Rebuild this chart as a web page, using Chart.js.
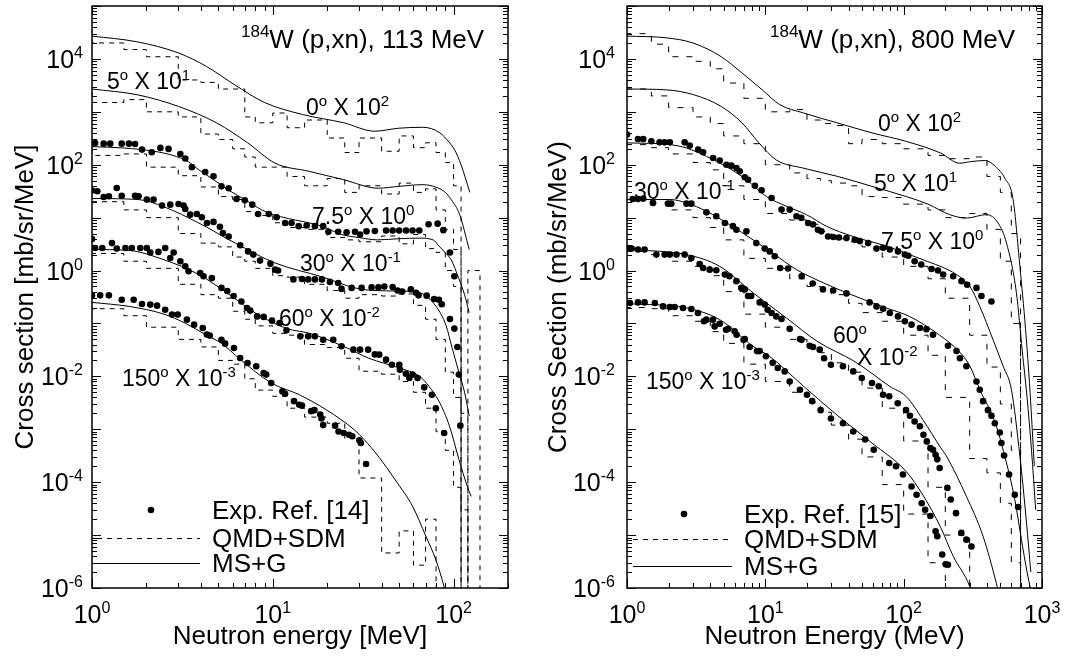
<!DOCTYPE html>
<html><head><meta charset="utf-8">
<script src="https://cdn.jsdelivr.net/npm/chart.js@4.4.1/dist/chart.umd.min.js"></script>
<style>
html,body{margin:0;padding:0;background:#fff;}
#wrap{position:relative;width:1068px;height:657px;overflow:hidden;}
canvas{position:absolute;top:0;}
#cL{left:0;} #cR{left:534px;}
</style></head><body>
<div id="wrap"><canvas id="cL" width="534" height="657"></canvas><canvas id="cR" width="534" height="657"></canvas></div>
<script>
// ---------------- tick labels ----------------
const X_TICKS_L = [1, 10, 100];
const X_TICKS_R = [1, 10, 100, 1000];
const Y_TICKS = [1e4, 1e2, 1, 1e-2, 1e-4, 1e-6];

// ---------------- LEFT PANEL: 184W(p,xn) 113 MeV ----------------
// MS+G (solid) curves  [E (MeV), d2sigma]
const L_MSG_0 = [[1,2.7e4],[1.78,2.1e4],[3,1.3e4],[4.3,7.2e3],[6.1,3.3e3],[9,1.5e3],[14.6,890],[24.7,620],[36.6,430],[49.8,490],[67.6,510],[84,400],[95,260],[101,195],[110,100],[123,30]];
const L_MSG_5 = [[1,2.7e3],[1.78,2.1e3],[3,1.27e3],[4.9,615],[7.25,260],[10.3,107],[15.9,75],[24.7,52],[38.3,36],[49.8,39],[67.6,42],[81,37],[90,30],[97,22],[108,11.5],[122,2.5]];
const L_MSG_75 = [[1,220],[1.5,207],[2.2,180],[2.8,150],[3.4,115],[3.9,80],[4.6,55],[5.7,33],[7,22],[8.7,14],[10,11.5],[12.2,9.6],[14.5,8.5],[18.7,6.9],[24,4.8],[30,4.2],[38,3.8],[50,4.0],[65,4.1],[77,3.8],[83,2.9],[92,2.0],[97,1.6],[107,0.7],[115,0.35],[122,0.16]];
const L_MSG_30 = [[1,23],[1.8,22],[2.5,16],[3.9,7.9],[6.2,3.3],[10.3,1.39],[18.7,0.76],[28.5,0.47],[36,0.42],[50,0.41],[65,0.38],[80,0.21],[91,0.09],[98,0.035],[107,0.012],[115,0.005],[122,0.0018]];
const L_MSG_60 = [[1,2.5],[1.6,2.4],[2.5,1.6],[3.9,0.84],[5.9,0.33],[8,0.158],[12,0.08],[16,0.065],[25,0.036],[34,0.022],[50,0.0144],[65,0.010],[73,0.0065],[83,0.0034],[95,0.00114],[107,2.7e-4],[119,8.4e-5],[125,5.4e-5]];
const L_MSG_150 = [[1,0.25],[1.6,0.21],[2.5,0.15],[3.3,0.1],[4.3,0.06],[5.2,0.042],[6.6,0.021],[9.8,0.0075],[14,0.0045],[19.9,0.0023],[28.2,9.8e-4],[32,6.4e-4],[38.3,3.1e-4],[47.6,1.1e-4],[59.3,3.5e-5],[70.3,9.5e-6],[79.8,3.4e-6],[89,1e-6],[95,4e-7]];

// QMD+SDM (dashed histograms): bin edges + bin values
const L_BINS = [1,1.5,2,3,4,5,6,7,8,10,12,15,20,25,30,40,50,60,70,80,90,100,110,120,140,160];
const L_QMD_0 = [3.5e4,2.0e4,1.5e4,1.1e4,4.0e3,3.6e3,2.7e3,2.7e3,800,620,950,500,700,320,170,320,180,350,210,260,170,110,40];
const L_QMD_5 = [2.3e3,1.5e3,1.7e3,1.0e3,800,380,300,200,140,90,90,60,40,55,30,40,28,45,30,35,14,6,2.5];
const L_QMD_75 = [200,150,160,90,62,38,25,22,13,11,8,6.5,6,4.2,3.8,3.5,4.5,3.2,4.8,2.6,2.2,1.0,0.5,1e-9,1.0];
const L_QMD_30 = [20,20,14,10,5,3.3,2.8,1.8,1.5,1.1,0.8,0.75,0.55,0.42,0.3,0.35,0.33,0.36,0.22,0.12,0.05,0.012,0.004,0.002];
const L_QMD_60 = [2.2,2.1,1.5,1.1,0.55,0.35,0.3,0.17,0.12,0.09,0.065,0.06,0.04,0.035,0.022,0.0125,0.011,0.008,0.005,0.0025,0.0009,4e-4,8e-5,3e-5];
const L_QMD_150 = [0.21,0.19,0.14,0.085,0.05,0.036,0.02,0.017,0.009,0.0055,0.0042,0.0025,0.0017,0.0013,6.8e-4,1.2e-4,4.6e-6,1.2e-5,2.7e-6,2e-5];

// Experimental data, Ref. [14]
const L_EXP_75 = [[1.04,258],[1.16,250],[1.26,250],[1.46,250],[1.6,250],[1.73,247],[1.89,193],[2.14,172],[2.39,208],[2.65,199],[3.08,160],[3.28,131],[3.57,90],[4.23,73],[4.7,60.5],[5.2,39],[5.7,36],[6.3,22.5],[7.0,21.3],[7.7,17.6],[8.3,11.7],[9.5,11.7],[10.5,10.2],[11.7,7.9],[12.7,7.9],[13.9,6.9],[15.4,7.1],[17.1,6.9],[19,6.9],[20.3,5.4],[23,5.4],[25.6,5.3],[28.5,5.4],[30.4,4.8],[33,5.5],[36.7,5.6],[42.3,5.7],[46,5.7],[50,5.7],[54.6,5.7],[59.3,5.7],[64.6,5.7],[72.7,7.5],[81.6,7.7],[87.8,5.8],[95.5,2.2],[101,0.78]];
const L_EXP_30 = [[1.0,32.4],[1.07,31.5],[1.16,24.6],[1.24,25.3],[1.37,36.4],[1.46,26],[1.73,26],[1.81,25.3],[2.01,21.9],[2.19,21.9],[2.44,16.9],[2.71,17.6],[3.01,18.1],[3.21,16.9],[3.28,14.6],[3.49,11.4],[3.8,11.7],[4.05,10.2],[4.32,7.9],[4.7,8.3],[5.1,6.7],[5.3,5.1],[5.7,4.4],[6.6,3.0],[7.3,2.3],[7.8,2.0],[8.5,1.54],[9.7,1.35],[10.3,1.04],[10.7,1.0],[13,0.68],[14.5,0.69],[15.7,0.68],[17.1,0.68],[18.7,0.68],[20.7,0.61],[23,0.58],[24,0.45],[27.3,0.47],[31,0.47],[35.2,0.48],[38.4,0.48],[41.4,0.5],[46,0.49],[49,0.42],[52,0.4],[58,0.44],[62,0.38],[64,0.34],[71,0.335],[78,0.29],[83,0.28],[86,0.23],[95.5,0.121],[101,0.08],[105,0.036],[107,0.0108],[109,0.00117]];
const L_EXP_60 = [[1.0,3.95],[1.04,2.67],[1.14,2.67],[1.29,3.3],[1.37,2.6],[1.53,2.67],[1.66,2.67],[1.85,2.67],[2.01,2.67],[2.1,2.2],[2.33,2.25],[2.54,2.67],[2.71,1.73],[2.83,2.2],[3.08,1.5],[3.28,1.2],[3.42,0.97],[3.97,0.9],[4.14,0.78],[4.6,0.72],[5.2,0.47],[5.6,0.41],[6.07,0.33],[6.7,0.26],[7.2,0.196],[7.5,0.175],[8.2,0.136],[8.9,0.133],[9.9,0.113],[10.9,0.102],[11.9,0.074],[14.2,0.057],[15.7,0.057],[17.1,0.057],[19,0.049],[21.6,0.049],[24,0.037],[27.9,0.032],[30.4,0.032],[33.7,0.032],[36.7,0.026],[38.8,0.0257],[42.3,0.0207],[45.6,0.0166],[50.1,0.0166],[50.5,0.0134],[54.5,0.0112],[56.9,0.0093],[59.3,0.0108],[63.2,0.0093],[68.8,0.0062],[75.9,0.0045],[79.8,0.0025],[88.7,8.5e-4]];
const L_EXP_150 = [[1.0,0.34],[1.11,0.34],[1.24,0.34],[1.46,0.28],[1.7,0.28],[1.89,0.233],[2.1,0.227],[2.29,0.217],[2.54,0.182],[2.77,0.147],[2.98,0.147],[3.35,0.118],[3.67,0.095],[4.1,0.082],[4.32,0.0615],[4.48,0.059],[5.2,0.049],[5.45,0.0415],[6.1,0.0344],[6.6,0.0222],[7.25,0.0179],[8.1,0.0155],[8.9,0.0116],[9.2,0.0108],[9.8,0.0075],[11.3,0.0052],[11.7,0.0047],[13.1,0.0034],[14.0,0.0029],[14.5,0.0028],[16.3,0.0022],[17.0,0.0023],[18.3,0.0019],[18.6,0.0016],[19.0,0.0012],[22.1,0.00117],[23.1,0.00091],[24.7,0.00085],[26.4,0.00079],[27.5,0.00074],[30.1,0.00062],[30.7,0.00055],[32.8,0.00022]];

// ---------------- RIGHT PANEL: 184W(p,xn) 800 MeV ----------------
const R_MSG_0 = [[1,2.7e4],[1.93,2.5e4],[3,2.0e4],[4.8,1.1e4],[6.8,5.4e3],[9.5,2.6e3],[12.7,1.37e3],[18.9,950],[33,620],[59,400],[105,275],[185,166],[253,107],[309,115],[389,120],[460,93],[540,55],[618,22],[692,1.2],[760,0.08],[820,0.005],[880,2e-4]];
const R_MSG_5 = [[1,2.7e3],[1.93,2.6e3],[3.04,2.1e3],[4.8,1.26e3],[6.8,615],[9,258],[12,123],[18.9,86],[33.4,60],[59,39],[104.5,25],[150,18],[215,11.4],[284,9.8],[396,11.4],[482,7.9],[554,3.3],[653,0.38],[720,0.03],[780,0.004],[840,4e-4],[900,3e-5]];
const R_MSG_75 = [[1,259],[2.04,240],[2.69,207],[3.75,144],[5.2,93],[7.3,52],[10.2,25],[14.2,16.4],[19.8,11.4],[27.6,6.9],[43,4.4],[75,2.9],[110,2.0],[138,1.6],[241,0.84],[301,0.5],[355,0.21],[443,0.049],[524,0.0155],[601,0.0056],[692,3.1e-4],[773,1.7e-5],[830,2e-6]];
const R_MSG_30 = [[1,22],[2.04,22],[2.69,19],[3.75,13.2],[5.5,7.4],[8.15,3.8],[11.4,2.1],[16.8,1.04],[24.7,0.63],[38.6,0.38],[75,0.196],[110,0.136],[182,0.06],[250,0.03],[300,0.016],[355,0.0056],[456,0.0014],[538,3.1e-4],[636,4.7e-5],[710,8.2e-6],[780,2e-6],[830,9e-7]];
const R_MSG_60 = [[1,2.5],[2.69,2.0],[4.68,1.2],[8.15,0.38],[14.2,0.127],[24,0.045],[44.4,0.019],[60,0.011],[79,0.0065],[104,0.0042],[138,0.0015],[185,4.5e-4],[204,3.1e-4],[284,5.4e-5],[375,9.5e-6],[469,1.2e-6],[500,6e-7]];
const R_MSG_150 = [[1,0.237],[2.69,0.196],[4.68,0.118],[8.15,0.037],[10.7,0.024],[18.9,0.0065],[33.4,0.0018],[59,5.5e-4],[104,1.6e-4],[139,5.5e-5],[185,1.4e-5],[228,4e-6],[300,1.07e-6],[320,6e-7]];

const R_BINS = [1,1.5,2,3,4,5,7,10,15,20,25,30,40,50,70,100,150,200,300,400,500,600,700,800];
const R_QMD_0 = [2.8e4,3.0e4,1.9e4,1.1e4,9e3,6.5e3,3.5e3,1.8e3,1.0e3,1.1e3,700,600,550,250,300,250,200,150,130,140,60,30,5];
const R_QMD_5 = [2.6e3,2.7e3,2.0e3,1.2e3,800,600,350,250,100,70,55,50,45,40,25,24,18,14,10,12,6,1.5,0.1];
const R_QMD_75 = [250,240,210,160,110,80,40,22,12,9,7.5,5.5,4.0,3.5,2.8,1.8,1.2,0.7,0.3,0.06,0.015,0.003,4e-4];
const R_QMD_30 = [21,22,19,14,10,6.5,3.8,1.7,1.1,0.7,0.5,0.45,0.35,0.24,0.16,0.11,0.06,0.025,0.004,2.8e-4,1.5e-4,4e-5,3e-6];
const R_QMD_60 = [2.4,2.3,2.0,1.5,1.2,0.8,0.4,0.15,0.085,0.05,0.035,0.028,0.018,0.012,0.006,0.0025,6e-4,8e-5,1e-5];
const R_QMD_150 = [0.22,0.2,0.19,0.14,0.11,0.07,0.042,0.017,0.008,0.005,0.0032,0.0021,0.0012,6.5e-4,3e-4,9e-5,2.5e-5,3e-6];

// Experimental data, Ref. [15]
const R_EXP_75 = [[1.0,371],[1.2,307],[1.31,307],[1.5,277],[1.72,265],[1.87,265],[2.04,265],[2.61,265],[2.84,230],[3.27,193],[3.55,172],[4.19,134],[4.68,120],[5.23,100],[5.68,96],[6.18,87],[6.53,75],[7.1,58],[7.5,52],[8.4,40],[9.4,33],[11.1,23.5],[13.1,14.2],[15,14.2],[16.8,10.6],[18.2,9.9],[20.4,7.9],[22.1,7.4],[24,5.9],[25.4,5.5],[28.4,4.4],[31,4.3],[34,4.2],[38.6,4.1],[44.3,3.8],[48.2,3.6],[55.4,3.3],[63.6,2.6],[71,2.7],[79.4,2.5],[91,2.3],[102,2.0],[108,1.9],[120,1.5],[134,1.3],[159,1.07],[177,1.0],[193,0.84],[228,0.78],[262,0.63],[288,0.54],[336,0.47],[365,0.33],[431,0.26]];
const R_EXP_30 = [[1.1,22.5],[1.2,22.5],[1.31,22.9],[1.54,19],[1.98,18.4],[2.09,18.4],[2.69,18.4],[2.92,18.4],[3.75,12.6],[4.42,10.6],[5.1,7.9],[5.83,6.9],[6.18,5.9],[7.3,5.5],[8.6,3.3],[9.9,2.6],[10.75,2.3],[11.7,1.86],[12.8,1.12],[14.6,1.09],[18.3,0.78],[22,0.57],[26.1,0.44],[30.9,0.42],[38.6,0.37],[56.7,0.25],[63.6,0.21],[71,0.19],[79.4,0.158],[91,0.136],[102,0.11],[114,0.095],[131,0.082],[146,0.078],[163,0.061],[209,0.038],[241,0.030],[255,0.022],[284,0.0155],[336,0.008],[355,0.0056],[375,0.0034],[407,0.0023],[431,0.0018],[456,0.0013],[495,8.7e-4],[509,5.5e-4],[532,3.2e-4],[578,1.4e-4],[636,5.8e-5],[672,3.4e-5]];
const R_EXP_60 = [[1.0,2.67],[1.08,2.6],[1.2,2.5],[1.34,2.5],[1.63,2.0],[1.87,2.0],[2.04,2.0],[2.28,2.0],[2.61,2.0],[2.92,1.73],[3.35,1.33],[3.55,1.12],[3.96,1.04],[4.42,1.01],[5.1,0.84],[5.5,0.78],[6.18,0.63],[6.7,0.47],[7.1,0.44],[7.5,0.33],[7.9,0.33],[9.1,0.25],[9.9,0.227],[10.4,0.182],[11.1,0.158],[12.0,0.136],[13.1,0.122],[15,0.079],[17.8,0.051],[18.3,0.049],[20.9,0.038],[22.1,0.036],[24.7,0.032],[26.6,0.022],[29.8,0.0166],[36.4,0.0155],[43.2,0.0124],[49.8,0.0093],[59,0.0075],[66,0.0065],[71,0.0045],[78.6,0.0042],[90.6,0.0031],[104,0.0023],[111,0.0018],[120,0.0014],[131,0.00114],[139,7.9e-4],[147,5.9e-4],[156,4.4e-4],[163,4.1e-4],[170,3.3e-4],[175,2.7e-4],[182,1.85e-4],[207,7.8e-5],[219,4.7e-5],[239,2.6e-5],[261,1.1e-5],[284,8.2e-6],[309,6.1e-6]];
const R_EXP_150 = [[1.05,0.244],[1.2,0.25],[1.34,0.25],[1.59,0.244],[1.82,0.21],[2.04,0.205],[2.21,0.205],[2.54,0.196],[2.92,0.188],[3.26,0.158],[3.6,0.11],[3.75,0.118],[4.19,0.118],[4.3,0.088],[4.68,0.099],[5.2,0.076],[5.4,0.079],[6.0,0.071],[6.2,0.061],[6.96,0.049],[7.1,0.051],[7.7,0.036],[8.7,0.030],[9.1,0.030],[10.1,0.024],[11.3,0.018],[12.3,0.0144],[13.8,0.0124],[15,0.008],[17.8,0.0056],[20,0.0045],[21.8,0.0034],[25.1,0.0023],[29.8,0.0016],[36.4,0.0013],[43.2,9.1e-4],[52.7,6.4e-4],[60.8,4.1e-4],[78.6,2.3e-4],[88,2.0e-4],[98.8,1.4e-4],[114,8.3e-5],[124,5.8e-5],[135,4.0e-5],[143,3.0e-5],[156,2.3e-5],[170,1.18e-5],[175,9.5e-6],[190,4.3e-6],[201,2.8e-6],[209,2.75e-6]];

// ---------------- drawing helpers ----------------
const FONT = '"Liberation Sans", Arial, Helvetica, sans-serif';
Chart.defaults.font.family = FONT;

function parseRich(s){
  const parts=[]; const re=/\{([^}]*)\}/g; let last=0, m;
  while((m=re.exec(s))){ if(m.index>last) parts.push({t:s.slice(last,m.index)}); parts.push({t:m[1],s:true}); last=re.lastIndex; }
  if(last<s.length) parts.push({t:s.slice(last)});
  return parts;
}
function drawRich(ctx, str, x, yb, F, S, raise, align){
  const parts=parseRich(str); let w=0;
  for(const p of parts){ ctx.font=(p.s?S:F)+'px '+FONT; p.w=ctx.measureText(p.t).width; w+=p.w; }
  let cx = align==='right' ? x-w : (align==='center' ? x-w/2 : x);
  ctx.textAlign='left'; ctx.textBaseline='alphabetic';
  for(const p of parts){ ctx.font=(p.s?S:F)+'px '+FONT; ctx.fillText(p.t, cx, p.s ? yb-raise : yb); cx+=p.w; }
}

function lineDS(arr){ return {data:arr.map(p=>({x:p[0],y:p[1]})), showLine:true, borderColor:'#000', borderWidth:1, pointRadius:0, cubicInterpolationMode:'monotone', fill:false, order:1}; }
function histDS(edges, vals, dash){
  const d=[]; for(let i=0;i<vals.length;i++) d.push({x:edges[i], y:vals[i]});
  d.push({x:edges[vals.length], y:1e-9});
  return {data:d, showLine:true, stepped:'after', borderColor:'#000', borderWidth:1, borderDash:dash, pointRadius:0, fill:false, order:2};
}
function dotDS(arr){ return {data:arr.map(p=>({x:p[0],y:p[1]})), showLine:false, pointRadius:3.3, pointStyle:'circle', pointBackgroundColor:'#000', pointBorderColor:'#000', pointBorderWidth:0, order:0}; }

function decor(cfg){
  return { id:'decor', afterDraw(chart){
    const ctx=chart.ctx, a=chart.chartArea, xs=chart.scales.x, ys=chart.scales.y;
    ctx.save(); ctx.fillStyle='#000'; ctx.strokeStyle='#000'; ctx.setLineDash([]);
    // ticks (inside, all four sides)
    ctx.lineWidth=1;
    const xmin=cfg.xmin, xmax=cfg.xmax;
    for(let k=Math.floor(Math.log10(xmin)); k<=Math.ceil(Math.log10(xmax)); k++){
      for(let m=1;m<=9;m++){ const v=m*Math.pow(10,k); if(v<xmin*0.999||v>xmax*1.001) continue;
        const px=Math.round(xs.getPixelForValue(v))+0.5, L=(m===1)?9:5;
        ctx.beginPath(); ctx.moveTo(px,a.bottom); ctx.lineTo(px,a.bottom-L); ctx.moveTo(px,a.top); ctx.lineTo(px,a.top+L); ctx.stroke(); }
    }
    for(let k=-6;k<=5;k++){
      for(let m=1;m<=9;m++){ const v=m*Math.pow(10,k); if(v<1e-6*0.999||v>1e5*1.001) continue;
        const py=Math.round(ys.getPixelForValue(v))+0.5, L=(m===1)?9:5;
        ctx.beginPath(); ctx.moveTo(a.left,py); ctx.lineTo(a.left+L,py); ctx.moveTo(a.right,py); ctx.lineTo(a.right-L,py); ctx.stroke(); }
    }
    // frame
    ctx.lineWidth=1.5; ctx.strokeRect(a.left, a.top, a.right-a.left, a.bottom-a.top);
    // tick labels
    for(const v of Y_TICKS){ const py=ys.getPixelForValue(v); const e=Math.round(Math.log10(v));
      drawRich(ctx, '10{'+e+'}', a.left-cfg.yGap, py+9, 25, 16, 10, 'right'); }
    for(const v of cfg.xTicks){ const px=xs.getPixelForValue(v); const e=Math.round(Math.log10(v));
      drawRich(ctx, '10{'+e+'}', px, 623, 25, 16, 10, 'center'); }
    // axis titles
    ctx.font='26px '+FONT; ctx.textAlign='center'; ctx.textBaseline='alphabetic';
    ctx.fillText(cfg.xTitle, (a.left+a.right)/2, 644);
    ctx.save(); ctx.translate(cfg.yTitleX, (a.top+a.bottom)/2); ctx.rotate(-Math.PI/2);
    ctx.textBaseline='middle'; ctx.fillText(cfg.yTitle, 0, 0); ctx.restore();
    // panel title
    drawRich(ctx, cfg.title, cfg.titleX, 48, 26, 17, 11, 'left');
    // angle annotations
    for(const an of cfg.ann){ drawRich(ctx, an[0], an[1], an[2]+8, 23, 15, 9, 'left'); }
    // legend
    const lg=cfg.legend;
    ctx.beginPath(); ctx.arc(lg.dotX, lg.rows[0], 3.3, 0, Math.PI*2); ctx.fill();
    ctx.lineWidth=1; ctx.setLineDash([5,5]);
    ctx.beginPath(); ctx.moveTo(lg.x1, lg.rows[1]+0.5); ctx.lineTo(lg.x2, lg.rows[1]+0.5); ctx.stroke();
    ctx.setLineDash([]);
    ctx.beginPath(); ctx.moveTo(lg.x1, lg.rows[2]+0.5); ctx.lineTo(lg.x2, lg.rows[2]+0.5); ctx.stroke();
    ctx.font='26px '+FONT; ctx.textAlign='left'; ctx.textBaseline='alphabetic';
    for(let i=0;i<3;i++) ctx.fillText(lg.labels[i], lg.textX, lg.rows[i]+9);
    ctx.restore();
  }};
}

function makeChart(id, cfg, datasets){
  return new Chart(document.getElementById(id), {
    type:'scatter',
    data:{datasets:datasets},
    options:{
      responsive:false, animation:false, devicePixelRatio:1,
      layout:{padding:{top:6, right:26, left:0, bottom:0}},
      plugins:{legend:{display:false}, tooltip:{enabled:false}},
      scales:{
        x:{type:'logarithmic', min:cfg.xmin, max:cfg.xmax, ticks:{display:false}, grid:{display:false}, border:{display:false},
           afterFit:function(s){ s.height=69; }},
        y:{type:'logarithmic', min:1e-6, max:1e5, ticks:{display:false}, grid:{display:false}, border:{display:false},
           afterFit:function(s){ s.width=cfg.yWidth; }}
      }
    },
    plugins:[decor(cfg)]
  });
}

const dashL=[5,5], dashR=[6,8];
makeChart('cL', {
  xmin:1, xmax:200, yWidth:92, yGap:9, xTicks:X_TICKS_L,
  xTitle:'Neutron energy [MeV]', yTitle:'Cross section [mb/sr/MeV]', yTitleX:26,
  title:'{184}W (p,xn), 113 MeV', titleX:241,
  ann:[['5{o} X 10{1}',107,81],['0{o} X 10{2}',306,107],['7.5{o} X 10{0}',312,216],['30{o} X 10{-1}',300,263],['60{o} X 10{-2}',279,318],['150{o} X 10{-3}',122,378]],
  legend:{dotX:151, x1:97, x2:200, textX:212, rows:[510,538,563], labels:['Exp. Ref. [14]','QMD+SDM','MS+G']}
}, [
  dotDS(L_EXP_75), dotDS(L_EXP_30), dotDS(L_EXP_60), dotDS(L_EXP_150),
  lineDS(L_MSG_0), lineDS(L_MSG_5), lineDS(L_MSG_75), lineDS(L_MSG_30), lineDS(L_MSG_60), lineDS(L_MSG_150),
  histDS(L_BINS,L_QMD_0,dashL), histDS(L_BINS,L_QMD_5,dashL), histDS(L_BINS,L_QMD_75,dashL),
  histDS(L_BINS,L_QMD_30,dashL), histDS(L_BINS,L_QMD_60,dashL), histDS(L_BINS,L_QMD_150,dashL)
]);

makeChart('cR', {
  xmin:1, xmax:1000, yWidth:93, yGap:12, xTicks:X_TICKS_R,
  xTitle:'Neutron Energy (MeV)', yTitle:'Cross Section (mb/sr/MeV)', yTitleX:25,
  title:'{184}W (p,xn), 800 MeV', titleX:236,
  ann:[['0{o} X 10{2}',344,123],['5{o} X 10{1}',340,183],['7.5{o} X 10{0}',347,241],['30{o} X 10{-1}',100,191],['60{o}',299,335],['X 10{-2}',323,357],['150{o} X 10{-3}',112,381]],
  legend:{dotX:150, x1:99, x2:198, textX:210, rows:[514,539,566], labels:['Exp. Ref. [15]','QMD+SDM','MS+G']}
}, [
  dotDS(R_EXP_75), dotDS(R_EXP_30), dotDS(R_EXP_60), dotDS(R_EXP_150),
  lineDS(R_MSG_0), lineDS(R_MSG_5), lineDS(R_MSG_75), lineDS(R_MSG_30), lineDS(R_MSG_60), lineDS(R_MSG_150),
  histDS(R_BINS,R_QMD_0,dashR), histDS(R_BINS,R_QMD_5,dashR), histDS(R_BINS,R_QMD_75,dashR),
  histDS(R_BINS,R_QMD_30,dashR), histDS(R_BINS,R_QMD_60,dashR), histDS(R_BINS,R_QMD_150,dashR)
]);
</script>
</body></html>
